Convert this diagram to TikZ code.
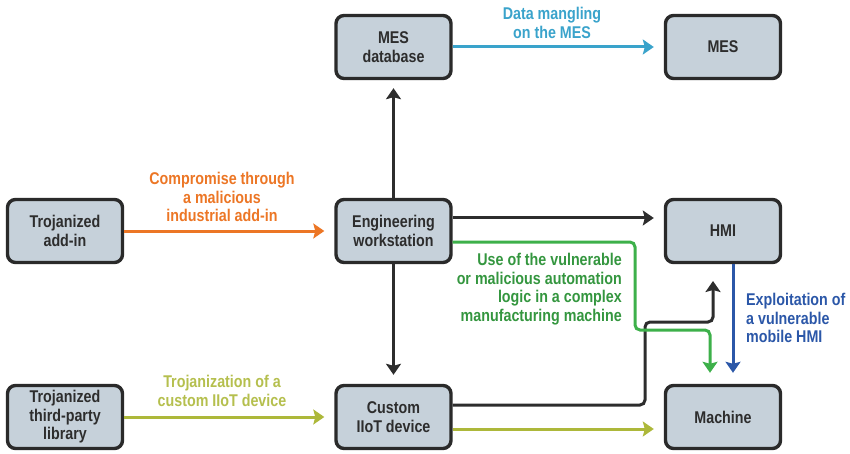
\documentclass[tikz,border=0pt]{standalone}
\usepackage{fontspec}
\setmainfont[FakeStretch=0.84]{Liberation Sans}
\usetikzlibrary{arrows.meta}
\definecolor{boxfill}{HTML}{C6D1DA}
\definecolor{boxline}{HTML}{2A2A2A}
\definecolor{cOrange}{HTML}{EC7625}
\definecolor{cLblue}{HTML}{3AA3CB}
\definecolor{cGreen}{HTML}{3DB04A}
\definecolor{cOlive}{HTML}{ADB83A}
\definecolor{cDblue}{HTML}{2B57A8}
\definecolor{cDark}{HTML}{2D2D2D}
\tikzset{
  box/.style={draw=boxline, fill=boxfill, line width=3.4pt, rounded corners=8pt,
    minimum width=115pt, minimum height=63pt, align=center,
    font=\fontsize{17}{18.5}\selectfont\bfseries, text=cDark, inner sep=2pt},
  conn/.style={line width=3pt, -{Stealth[length=11pt,width=15pt,inset=2pt]}},
  lbl/.style={font=\fontsize{17}{18.5}\selectfont\bfseries, inner sep=0pt},
}
\begin{document}
\begin{tikzpicture}[x=1pt,y=-1pt]
\useasboundingbox (0,0) rectangle (850,454);
% boxes
\node[box] (mesdb) at (393.5,47) {MES\\database};
\node[box] (mes) at (723,47) {MES};
\node[box] (addin) at (65,231) {Trojanized\\add-in};
\node[box] (eng) at (393.5,231) {Engineering\\workstation};
\node[box] (hmi) at (723,231) {HMI};
\node[box] (lib) at (65,417) {Trojanized\\third-party\\library};
\node[box] (custom) at (393.5,417) {Custom\\IIoT device};
\node[box] (machine) at (723,417) {Machine};
% waypoints
\coordinate (g1) at (635,242);
\coordinate (g2) at (635,330);
\coordinate (g3) at (710,330);
\coordinate (k1) at (645,405);
\coordinate (k2) at (645,322);
\coordinate (k3) at (713,322);
% connectors
\draw[conn, cDark, shorten >=8pt] (eng.north) -- (mesdb.south);
\draw[conn, cDark, shorten >=9pt] (eng.south) -- (custom.north);
\draw[conn, cLblue, shorten >=10pt] (mesdb.east) -- (mes.west);
\draw[conn, cOrange, shorten >=10pt] (addin.east) -- (eng.west);
\draw[conn, cDark, shorten >=10pt] ([yshift=13pt]eng.east) -- ([yshift=13pt]hmi.west);
\draw[conn, cOlive, shorten >=10pt] (lib.east) -- (custom.west);
\draw[conn, cOlive, shorten >=10pt] ([yshift=-12pt]custom.east) -- ([yshift=-12pt]machine.west);
\draw[conn, cDblue, shorten >=11pt] ([xshift=10pt]hmi.south) -- ([xshift=10pt]machine.north);
\draw[conn, cDark, rounded corners=5pt] ([yshift=12pt]custom.east) -- (k1) -- (k2) -- (k3) -- (713,281);
\draw[conn, cGreen, rounded corners=5pt] ([yshift=-11pt]eng.east) -- (g1) -- (g2) -- (g3) -- ([xshift=-13pt,yshift=11pt]machine.north);
% labels
\node[lbl, text=cLblue, align=center] (t1) at (552,23) {Data mangling\\on the MES};
\node[lbl, text=cOrange, align=center] (t2) at (222,197) {Compromise through\\a malicious\\industrial add-in};
\node[lbl, text=cOlive!90!white, align=center] (t3) at (222,391) {Trojanization of a\\custom IIoT device};
\node[lbl, text=cGreen!85!black, align=right, anchor=east] (t4) at (622,289) {Use of the vulnerable\\or malicious automation\\logic in a complex\\manufacturing machine};
\node[lbl, text=cDblue, align=left, anchor=west] (t5) at (746,318) {Exploitation of\\a vulnerable\\mobile HMI};
\end{tikzpicture}
\end{document}
